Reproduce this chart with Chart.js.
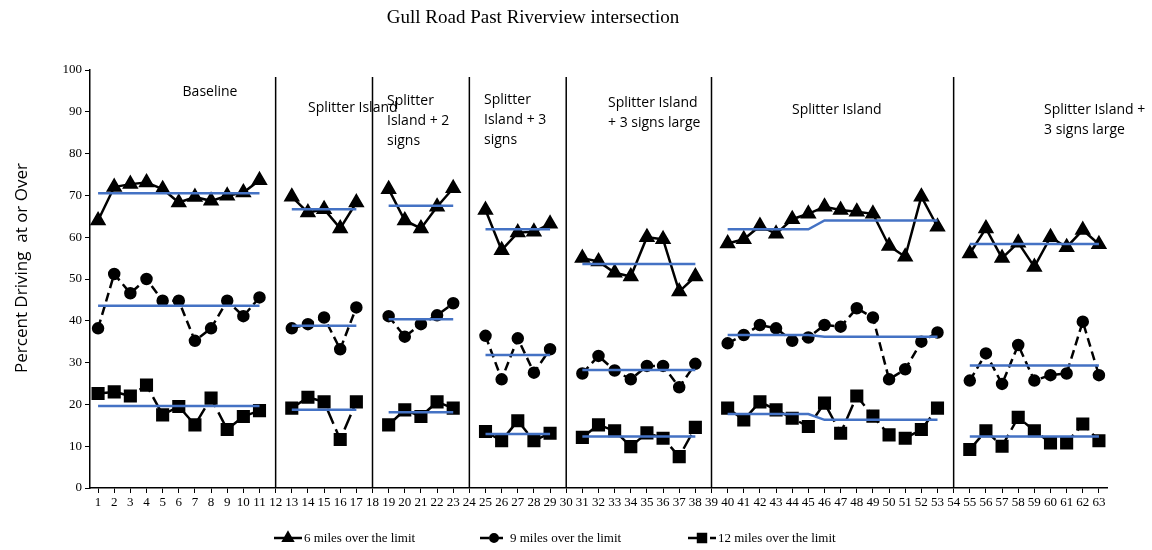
<!DOCTYPE html>
<html>
<head>
<meta charset="utf-8">
<script src="https://cdn.jsdelivr.net/npm/chart.js@4.4.1/dist/chart.umd.min.js"></script>
<style>
  html, body { margin: 0; padding: 0; background: #fff; }
  #wrap { width: 1152px; height: 550px; position: relative; }
</style>
</head>
<body>
<div id="wrap"><canvas id="speedChart" width="1152" height="550"></canvas></div>
<script>
// Gull Road past Riverview intersection - percent of drivers over the limit

const sessions = Array.from({ length: 63 }, (_, i) => String(i + 1));

// null = phase change (no session recorded)
const over6 = [64, 72, 72.7, 73.1, 71.5, 68.3, 69.6, 68.7, 69.9, 70.7, 73.6, null,
    69.7, 65.9, 66.7, 62.1, 68.3, null,
    71.5, 64, 62.1, 67.3, 71.7, null,
    66.5, 56.9, 61.1, 61.3, 63.2, null,
    55, 54.2, 51.5, 50.6, 60, 59.5, 47, 50.6, null,
    58.5, 59.5, 62.7, 60.8, 64.3, 65.6, 67.3, 66.5, 66.1, 65.6, 57.9, 55.3, 69.7, 62.5, null,
    56.1, 62.1, 55, 58.7, 52.9, 60, 57.6, 61.7, 58.3];

const over9 = [38.2, 51.2, 46.6, 50, 44.8, 44.8, 35.2, 38.2, 44.8, 41.1, 45.6, null,
    38.2, 39.2, 40.8, 33.2, 43.2, null,
    41.1, 36.2, 39.2, 41.3, 44.2, null,
    36.4, 26, 35.8, 27.6, 33.2, null,
    27.4, 31.6, 28.1, 26, 29.2, 29.2, 24.1, 29.7, null,
    34.6, 36.6, 39, 38.2, 35.2, 36, 39, 38.6, 43, 40.8, 26, 28.4, 35, 37.2, null,
    25.7, 32.2, 24.9, 34.2, 25.7, 27, 27.4, 39.8, 27];

const over12 = [22.6, 23, 22, 24.6, 17.5, 19.5, 15.1, 21.5, 14, 17.1, 18.5, null,
    19.1, 21.7, 20.6, 11.6, 20.6, null,
    15.1, 18.7, 17.1, 20.6, 19.1, null,
    13.5, 11.3, 16.1, 11.3, 13.1, null,
    12.1, 15.1, 13.7, 9.9, 13.2, 11.9, 7.5, 14.5, null,
    19.1, 16.3, 20.6, 18.7, 16.7, 14.7, 20.3, 13.1, 22, 17.2, 12.7, 11.9, 14, 19.1, null,
    9.2, 13.7, 10, 16.9, 13.7, 10.8, 10.8, 15.3, 11.3];

// phase mean lines (first session, last session)
const meanRanges = [[1, 11], [13, 17], [19, 23], [25, 29], [31, 38], [40, 45], [46, 53], [55, 63]];
const mean6 = [70.5, 66.7, 67.5, 61.9, 53.6, 61.9, 64, 58.4];
const mean9 = [43.6, 38.8, 40.4, 31.8, 28.2, 36.6, 36.2, 29.3];
const mean12 = [19.6, 18.7, 18.1, 12.9, 12.3, 17.7, 16.3, 12.3];

const phaseBreaks = [12, 18, 24, 30, 39, 54];
const phaseNames = [
    ['Baseline'],
    ['Splitter Island'],
    ['Splitter', 'Island + 2', 'signs'],
    ['Splitter', 'Island + 3', 'signs'],
    ['Splitter Island', '+ 3 signs large'],
    ['Splitter Island'],
    ['Splitter Island +', '3 signs large']
];
const yTicks = [0, 10, 20, 30, 40, 50, 60, 70, 80, 90, 100];
const seriesNames = ['6 miles over the limit', '9 miles over the limit', '12 miles over the limit'];

function meanLine(means) {
    const out = sessions.map(() => null);
    meanRanges.forEach(([a, b], i) => {
        for (let s = a; s <= b; s++) out[s - 1] = means[i];
    });
    return out;
}

const BLUE = '#4472C4';
const serif = "'Liberation Serif', 'Times New Roman', serif";
const sans = "'Open Sans', 'Liberation Sans', sans-serif";

// where the phase names sit (px) and how they align
const phaseLabelPos = [
    { x: 210, y: 92, align: 'center' },
    { x: 308, y: 108, align: 'left' },
    { x: 387, y: 101, align: 'left' },
    { x: 484, y: 100, align: 'left' },
    { x: 608, y: 103, align: 'left' },
    { x: 792, y: 110, align: 'left' },
    { x: 1044, y: 110, align: 'left' }
];

const decorations = {
    id: 'decorations',
    beforeDatasetsDraw(chart) {
        const { ctx, scales: { x, y } } = chart;
        ctx.save();
        ctx.strokeStyle = '#000';
        ctx.lineWidth = 1.5;
        phaseBreaks.forEach(s => {
            const px = x.getPixelForValue(s - 1);
            ctx.beginPath();
            ctx.moveTo(px, y.getPixelForValue(98.3));
            ctx.lineTo(px, y.getPixelForValue(0));
            ctx.stroke();
        });
        ctx.restore();
    },
    afterDraw(chart) {
        const { ctx } = chart;
        ctx.save();
        // title
        ctx.fillStyle = '#000';
        ctx.font = '19px ' + serif;
        ctx.textAlign = 'center';
        ctx.textBaseline = 'middle';
        ctx.fillText('Gull Road Past Riverview intersection', 533, 18);

        // y axis title
        ctx.save();
        ctx.translate(22, 268);
        ctx.rotate(-Math.PI / 2);
        ctx.font = '17px ' + sans;
        ctx.fillText('Percent Driving  at or Over', 0, 0);
        ctx.restore();

        // phase names
        ctx.font = '14px ' + sans;
        phaseNames.forEach((lines, i) => {
            const p = phaseLabelPos[i];
            ctx.textAlign = p.align;
            lines.forEach((t, j) => ctx.fillText(t, p.x, p.y + j * 20));
        });

        // legend
        const items = chart.data.datasets.filter(d => d.legendItem);
        const starts = [274, 480, 688];
        ctx.font = '13px ' + serif;
        ctx.textAlign = 'left';
        items.forEach((d, i) => {
            const x0 = starts[i], yy = 538;
            ctx.strokeStyle = '#000';
            ctx.lineWidth = 2.5;
            ctx.setLineDash(d.borderDash || []);
            ctx.beginPath();
            ctx.moveTo(x0, yy);
            ctx.lineTo(x0 + 28, yy);
            ctx.stroke();
            ctx.setLineDash([]);
            Chart.helpers.drawPoint(ctx, {
                pointStyle: d.pointStyle, radius: d.pointRadius * 0.75,
                rotation: 0, borderWidth: 1
            }, x0 + 14, yy);
            ctx.fillStyle = '#000';
            ctx.fill();
            ctx.fillText(d.label, x0 + 30, yy + 1);
        });
        ctx.restore();
    }
};

function series(label, data, style, radius, dash) {
    return {
        label, data, legendItem: true,
        borderColor: '#000', backgroundColor: '#000',
        borderWidth: 2.5, borderDash: dash,
        pointStyle: style, pointRadius: radius,
        pointBackgroundColor: '#000', pointBorderColor: '#000',
        tension: 0, spanGaps: false, order: 2
    };
}

function mean(data) {
    return {
        label: 'mean', data, borderColor: BLUE, borderWidth: 2.5,
        pointRadius: 0, tension: 0, spanGaps: false, order: 1
    };
}

new Chart(document.getElementById('speedChart'), {
    type: 'line',
    data: {
        labels: sessions,
        datasets: [
            series(seriesNames[0], over6, 'triangle', 7, []),
            series(seriesNames[1], over9, 'circle', 5, [9, 5]),
            series(seriesNames[2], over12, 'rect', 7.5, [16, 6]),
            mean(meanLine(mean6)),
            mean(meanLine(mean9)),
            mean(meanLine(mean12))
        ]
    },
    options: {
        responsive: false,
        animation: false,
        layout: { padding: { left: 40, right: 45, top: 70, bottom: 0 } },
        plugins: {
            legend: { display: false },
            title: { display: false },
            tooltip: { enabled: false }
        },
        scales: {
            x: {
                offset: true,
                grid: { display: true, drawOnChartArea: false, color: '#000', tickLength: 5, offset: false },
                border: { color: '#000', width: 1.5 },
                ticks: {
                    autoSkip: false, maxRotation: 0, minRotation: 0, padding: 2,
                    color: '#000', font: { family: serif, size: 13 }
                },
                afterFit(scale) { scale.height = 62; }
            },
            y: {
                min: 0, max: 100,
                afterBuildTicks(scale) { scale.ticks = yTicks.map(v => ({ value: v })); },
                grid: { display: true, drawOnChartArea: false, color: '#000', tickLength: 5 },
                border: { color: '#000', width: 1.5 },
                ticks: { color: '#000', padding: 3, font: { family: serif, size: 13 } },
                afterFit(scale) { scale.width = 50; }
            }
        }
    },
    plugins: [decorations]
});
</script>
</body>
</html>
